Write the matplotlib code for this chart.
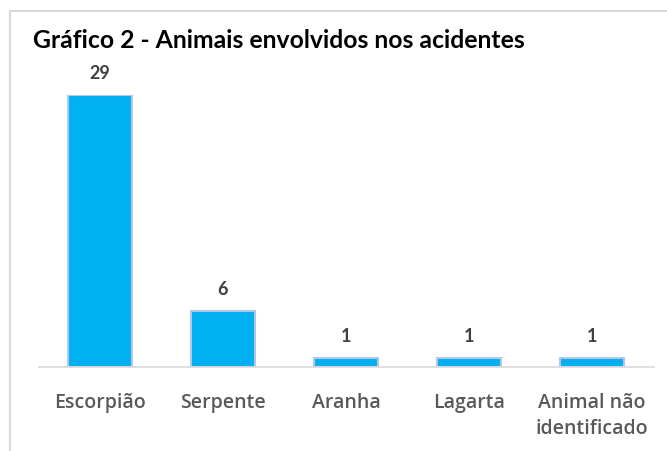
import matplotlib
matplotlib.use("Agg")
import matplotlib.pyplot as plt
from matplotlib.lines import Line2D

categories = ["Escorpião", "Serpente", "Aranha", "Lagarta", "Animal não\nidentificado"]
values = [29, 6, 1, 1, 1]
title = "Gráfico 2 - Animais envolvidos nos acidentes"

plt.rcParams['font.family'] = ['Lato', 'DejaVu Sans']

fig = plt.figure(figsize=(6.67, 4.52), dpi=100)
ax = fig.add_axes([38.5/667, 1-368/452, 615/667, 272/452])

x = list(range(len(categories)))
ax.bar(x, values, width=0.52, color="#00B0F0", edgecolor="#B4C7E7", linewidth=1.5)
ax.set_xlim(-0.5, 4.5)
ax.set_ylim(0, 29)

for xi, v in zip(x, values):
    ax.annotate(str(v), (xi, v), xytext=(0, 12.2), textcoords="offset points",
                ha="center", va="baseline", fontsize=13, fontweight="bold", color="#404040")

ax.set_xticks(x)
ax.set_xticklabels([])
ax.tick_params(axis="x", length=0)
for xi, c in zip(x, categories):
    ax.annotate(c, (xi, 0), xytext=(0, -18), textcoords="offset points",
                ha="center", va="top", fontsize=14, fontweight="semibold",
                color="#595959", family=["Open Sans", "DejaVu Sans"], linespacing=1.42)
ax.set_yticks([])
for s in ["top", "right", "left"]:
    ax.spines[s].set_visible(False)
ax.spines["bottom"].set_color("#D9D9D9")
ax.spines["bottom"].set_linewidth(1.2)
ax.patch.set_alpha(0)

# chart frame
fig.add_artist(Line2D([10/667, 1.0], [1-12/452, 1-12/452], transform=fig.transFigure,
                      color="#D9D9D9", linewidth=1.5))
fig.add_artist(Line2D([10/667, 10/667], [0, 1-12/452], transform=fig.transFigure,
                      color="#D9D9D9", linewidth=1.5))

fig.text(33/667, 1-48/452, title, fontsize=17.8, fontweight="bold", color="black",
         ha="left", va="baseline")

fig.savefig("out.png", dpi=100)
